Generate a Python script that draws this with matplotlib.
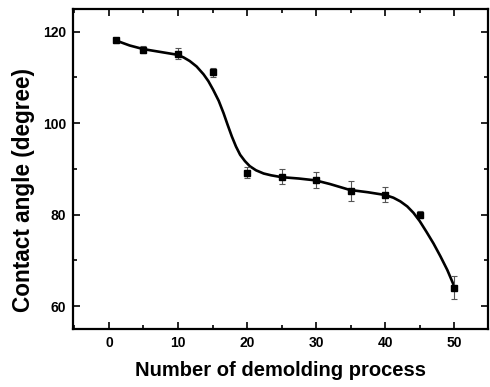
import matplotlib.pyplot as plt
from matplotlib.ticker import MultipleLocator

plt.rcParams['font.family'] = ['Liberation Sans', 'DejaVu Sans']
plt.rcParams['font.weight'] = 'bold'

# measured points
cycles = [1, 5, 10, 15, 20, 25, 30, 35, 40, 45, 50]
angle = [118.1, 116.1, 115.2, 111.1, 89.2, 88.3, 87.6, 85.1, 84.4, 80.0, 64.0]
angle_err = [0.5, 0.8, 1.2, 1.0, 1.2, 1.6, 1.8, 2.2, 1.7, 0.8, 2.5]

# fitted curve
fit_x = [1, 3, 5, 7, 9.8, 10.8, 11.7, 12.7, 13.7, 14.4, 15.1, 15.9, 16.6,
         17.2, 17.8, 18.4, 19.0, 19.7, 20.4, 21.3, 22.4, 23.5, 25.0, 27.5,
         29.9, 32.0, 34.9, 37.5, 40.0, 41.2, 42.2, 43.2, 44.1, 45.0, 46.0,
         47.0, 48.0, 49.0, 49.9]
fit_y = [118.1, 117.0, 116.2, 115.7, 115.0, 114.4, 113.6, 112.4, 110.7,
         109.2, 107.3, 104.9, 102.2, 99.6, 97.1, 94.9, 93.1, 91.7, 90.6,
         89.7, 89.0, 88.6, 88.2, 87.9, 87.5, 86.7, 85.4, 84.9, 84.3, 83.7,
         82.9, 81.8, 80.4, 78.6, 76.2, 73.7, 70.9, 67.9, 64.7]

fig = plt.figure(figsize=(4.9, 3.87), dpi=100)
ax = fig.add_axes([0.149, 0.150, 0.847, 0.827])

ax.plot(fit_x, fit_y, color='black', lw=1.9, solid_capstyle='round',
        solid_joinstyle='round')
ax.errorbar(cycles, angle, yerr=angle_err, fmt='s', color='black', ms=5,
            ecolor='#555555', elinewidth=0.8, capsize=2.5, capthick=0.8)

ax.set_xlim(-5.2, 54.9)
ax.set_ylim(55, 125)
ax.xaxis.set_major_locator(MultipleLocator(10))
ax.xaxis.set_minor_locator(MultipleLocator(5))
ax.yaxis.set_major_locator(MultipleLocator(20))
ax.yaxis.set_minor_locator(MultipleLocator(10))
ax.tick_params(which='both', direction='in', top=True, right=True, width=1.2)
ax.tick_params(which='major', length=5, labelsize=10, pad=5)
ax.tick_params(which='minor', length=3)
for sp in ax.spines.values():
    sp.set_linewidth(1.6)

ax.set_xlabel('Number of demolding process', fontsize=14.5, fontweight='bold', labelpad=8)
ax.set_ylabel('Contact angle (degree)', fontsize=16.3, fontweight='bold')
ax.yaxis.set_label_coords(-0.092, 0.434)

fig.savefig('out.png', dpi=100)
